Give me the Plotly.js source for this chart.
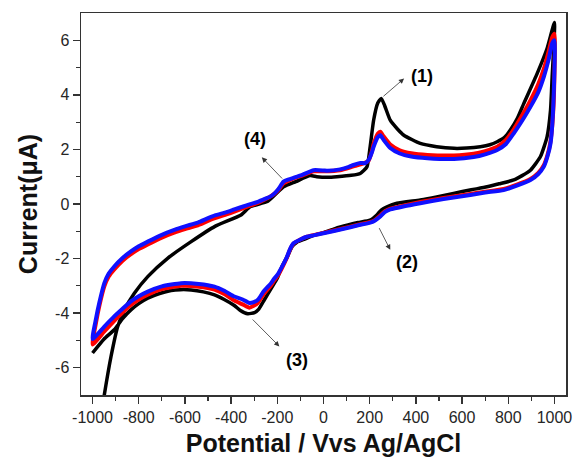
<!DOCTYPE html>
<html>
<head>
<meta charset="utf-8">
<script src="https://cdn.plot.ly/plotly-3.0.1.min.js"></script>
<style>html,body{margin:0;padding:0;background:#fff;}#chart{width:574px;height:459px;}</style>
</head>
<body>
<div id="chart"></div>
<script>
// Black curve (scan 1): anodic then cathodic branch
const blackV = [-985,-949,-920,-891,-862,-819,-761,-675,-573,-470,-357,-318,-241,-173,-120,-58,-29,20,58,120,159,188,202,217,235,250,265,289,320,348,419,490,565,620,679,720,752,785,809,840,867,925,968,1000,
  990,983,968,939,896,860,824,760,708,640,563,490,419,318,275,250,231,202,150,106,50,0,-43,-85,-115,-135,-155,-180,-198,-227,-256,-280,-299,-328,-360,-386,-430,-472,-520,-573,-620,-660,-710,-761,-800,-834,-870,-906,-950,-1000];
const blackI = [-9.0,-6.99,-5.59,-4.49,-3.88,-3.27,-2.66,-1.99,-1.38,-0.82,-0.40,-0.10,0.10,0.63,0.82,1.04,1.0,0.98,1.0,1.05,1.12,1.36,2.1,3.07,3.7,3.87,3.6,3.07,2.75,2.52,2.22,2.1,2.04,2.05,2.1,2.17,2.28,2.45,2.71,3.15,3.68,4.78,5.7,6.65,
  4.66,3.44,2.46,1.73,1.24,1.04,0.88,0.74,0.63,0.52,0.39,0.26,0.15,0.03,-0.1,-0.22,-0.40,-0.59,-0.68,-0.77,-0.9,-1.05,-1.15,-1.3,-1.40,-1.55,-1.9,-2.3,-2.68,-3.1,-3.51,-3.85,-3.98,-4.02,-3.9,-3.72,-3.5,-3.33,-3.22,-3.15,-3.14,-3.17,-3.28,-3.45,-3.65,-3.88,-4.2,-4.61,-4.95,-5.46];

// Red curve
const redV = [-1000,-985,-971,-949,-930,-906,-870,-834,-800,-761,-700,-646,-600,-544,-500,-470,-420,-386,-330,-284,-250,-231,-212,-195,-173,-150,-130,-90,-43,0,72,130,160,195,210,217,235,246,260,289,330,380,450,565,650,700,752,790,824,860,896,930,954,975,990,1000,
  996,983,970,954,930,896,840,780,700,636,520,419,350,289,265,246,220,202,150,116,50,0,-43,-72,-100,-130,-145,-159,-183,-200,-215,-227,-259,-284,-302,-321,-350,-386,-430,-472,-540,-617,-700,-761,-800,-834,-870,-906,-950,-1000];
const redI = [-5.15,-4.35,-3.75,-3.02,-2.66,-2.4,-2.08,-1.84,-1.65,-1.48,-1.23,-1.05,-0.92,-0.78,-0.62,-0.52,-0.38,-0.28,-0.1,0.04,0.18,0.27,0.38,0.52,0.76,0.86,0.94,1.05,1.2,1.2,1.24,1.38,1.45,1.58,1.95,2.2,2.58,2.65,2.48,2.18,1.97,1.86,1.8,1.78,1.84,1.94,2.1,2.35,2.74,3.25,3.8,4.4,4.95,5.6,6.1,6.24,
  3.6,2.3,1.8,1.42,1.14,0.92,0.72,0.55,0.45,0.37,0.22,0.07,-0.05,-0.17,-0.27,-0.42,-0.6,-0.66,-0.76,-0.83,-0.96,-1.06,-1.14,-1.2,-1.3,-1.45,-1.67,-1.98,-2.4,-2.65,-2.82,-2.98,-3.3,-3.62,-3.73,-3.80,-3.68,-3.54,-3.3,-3.14,-3.03,-3.0,-3.12,-3.32,-3.5,-3.7,-3.98,-4.28,-4.68,-5.15];

// Blue curve
const blueV = [-1000,-985,-971,-949,-930,-906,-870,-834,-800,-761,-700,-646,-600,-544,-500,-470,-420,-386,-330,-284,-250,-231,-212,-195,-173,-150,-130,-90,-43,0,15,72,110,130,160,180,195,210,217,235,246,260,289,330,380,450,565,650,700,752,790,824,860,896,930,954,975,990,1000,
  994,983,970,954,930,896,840,780,700,636,520,419,350,289,265,246,220,202,150,116,50,0,-43,-72,-100,-130,-145,-159,-183,-200,-215,-227,-259,-284,-302,-321,-350,-386,-430,-472,-540,-617,-700,-761,-800,-834,-870,-906,-950,-1000];
const blueI = [-4.95,-4.2,-3.63,-2.90,-2.55,-2.29,-1.98,-1.74,-1.55,-1.38,-1.13,-0.95,-0.82,-0.68,-0.52,-0.42,-0.3,-0.2,-0.04,0.08,0.2,0.27,0.39,0.55,0.82,0.9,0.96,1.08,1.24,1.23,1.22,1.27,1.36,1.43,1.5,1.5,1.61,1.9,2.1,2.45,2.52,2.35,2.05,1.85,1.74,1.68,1.65,1.72,1.82,1.98,2.2,2.59,3.05,3.56,4.1,4.66,5.3,5.88,6.0,
  3.44,2.22,1.75,1.37,1.1,0.88,0.68,0.51,0.42,0.33,0.18,0.03,-0.08,-0.2,-0.3,-0.46,-0.62,-0.68,-0.78,-0.85,-0.98,-1.07,-1.15,-1.2,-1.3,-1.44,-1.65,-1.95,-2.35,-2.6,-2.75,-2.9,-3.2,-3.51,-3.6,-3.63,-3.5,-3.39,-3.18,-3.03,-2.93,-2.90,-3.02,-3.21,-3.38,-3.57,-3.84,-4.12,-4.5,-4.95];

const xTickVals = [-1000,-800,-600,-400,-200,0,200,400,600,800,1000];
const xTickLabels = ['-1000','-800','-600','-400','-200','0','200','400','600','800','1000'];
const yTickVals = [-6,-4,-2,0,2,4,6];
const yTickLabels = ['-6','-4','-2','0','2','4','6'];

// Peak labels: text position and arrow (tail -> head) in data units
const peakLabels = ['(1)','(2)','(3)','(4)'];
const labelV = [426,361,-116,-296];
const labelI = [4.7,-2.11,-5.71,2.4];
const arrowTailV = [253,238,-313,-173];
const arrowTailI = [3.9,-0.83,-4.18,0.88];
const arrowHeadV = [349,289,-191,-267];
const arrowHeadI = [4.6,-1.68,-5.22,1.71];

const lineShape = {shape:'spline', smoothing:0.5};
const traces = [
  {x: blackV, y: blackI, mode:'lines', line:Object.assign({color:'#000000', width:3.5}, lineShape), hoverinfo:'skip'},
  {x: redV, y: redI, mode:'lines', line:Object.assign({color:'#ff0000', width:4}, lineShape), hoverinfo:'skip'},
  {x: blueV, y: blueI, mode:'lines', line:Object.assign({color:'#1010ff', width:4}, lineShape), hoverinfo:'skip'}
];

const annotations = [];
for (let k = 0; k < peakLabels.length; k++) {
  annotations.push({x: arrowHeadV[k], y: arrowHeadI[k], xref:'x', yref:'y', ax: arrowTailV[k], ay: arrowTailI[k], axref:'x', ayref:'y',
    text:'', showarrow:true, arrowhead:2, arrowsize:1.3, arrowwidth:0.8, arrowcolor:'#333', standoff:0, startstandoff:0});
  annotations.push({x: labelV[k], y: labelI[k], xref:'x', yref:'y', text: '<b>' + peakLabels[k] + '</b>', showarrow:false,
    font:{family:'Arial, Liberation Sans, sans-serif', size:18, color:'#000'}, xanchor:'center', yanchor:'middle'});
}

const axisFont = {family:'Arial, Liberation Sans, sans-serif', size:16, color:'#262626'};
const layout = {
  width:574, height:459,
  margin:{l:81, r:8, t:13, b:64},
  paper_bgcolor:'#fff', plot_bgcolor:'#fff',
  showlegend:false,
  xaxis:{
    range:[-1050,1050], showgrid:false, zeroline:false,
    showline:true, mirror:true, linecolor:'#333', linewidth:1.5,
    ticks:'outside', ticklen:7, tickwidth:1.3, tickcolor:'#333',
    tickvals:xTickVals, ticktext:xTickLabels, tickfont:axisFont,
    minor:{tickvals:[-900,-700,-500,-300,-100,100,300,500,700,900], ticks:'outside', ticklen:4, tickwidth:1.2, tickcolor:'#333'},
    title:{text:'<b>Potential / Vvs Ag/AgCl</b>', font:{family:'Arial, Liberation Sans, sans-serif', size:25, color:'#111'}, standoff:10}
  },
  yaxis:{
    range:[-7,7], showgrid:false, zeroline:false,
    showline:true, mirror:true, linecolor:'#333', linewidth:1.5,
    ticks:'outside', ticklen:7, tickwidth:1.3, tickcolor:'#333',
    tickvals:yTickVals, ticktext:yTickLabels, tickfont:axisFont,
    minor:{tickvals:[-5,-3,-1,1,3,5], ticks:'outside', ticklen:4, tickwidth:1.2, tickcolor:'#333'},
    title:{text:'<b>Current(μA)</b>', font:{family:'Arial, Liberation Sans, sans-serif', size:25, color:'#111'}, standoff:10}
  },
  annotations: annotations
};

Plotly.newPlot('chart', traces, layout, {staticPlot:true, displayModeBar:false});
</script>
</body>
</html>
